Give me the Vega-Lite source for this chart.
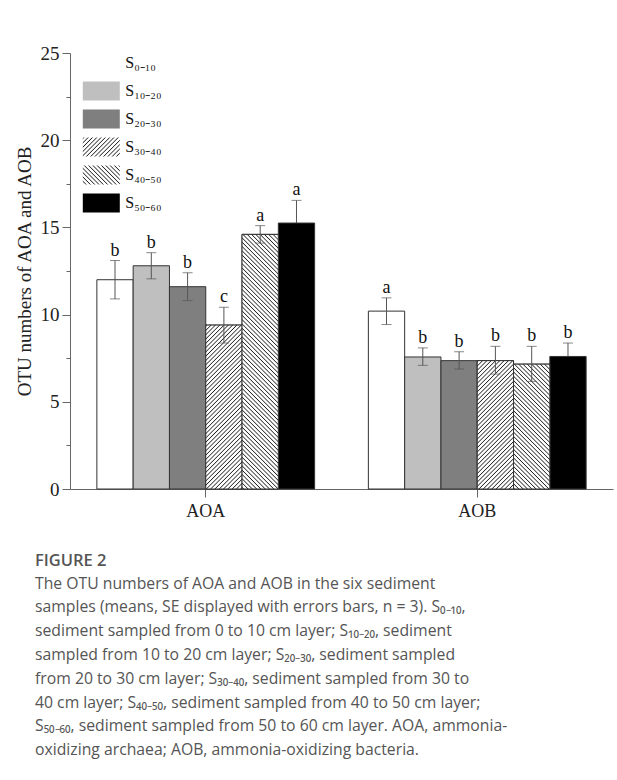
{
"$schema": "https://vega.github.io/schema/vega-lite/v6.json",
"width": 543,
"height": 436,
"autosize": {"type": "none"},
"padding": {"left": 70, "top": 53, "right": 4, "bottom": 291},
"background": "white",
"config": {"view": {"stroke": null}, "font": "Liberation Serif"},
"params": [{"name": "hatch", "value": [
{"offset":0,"color":"#fff"},{"offset":0.0025,"color":"#222"},{"offset":0.005,"color":"#fff"},
{"offset":0.01,"color":"#fff"},{"offset":0.0125,"color":"#222"},{"offset":0.015,"color":"#fff"},
{"offset":0.02,"color":"#fff"},{"offset":0.0225,"color":"#222"},{"offset":0.025,"color":"#fff"},
{"offset":0.03,"color":"#fff"},{"offset":0.0325,"color":"#222"},{"offset":0.035,"color":"#fff"},
{"offset":0.04,"color":"#fff"},{"offset":0.0425,"color":"#222"},{"offset":0.045,"color":"#fff"},
{"offset":0.05,"color":"#fff"},{"offset":0.0525,"color":"#222"},{"offset":0.055,"color":"#fff"},
{"offset":0.06,"color":"#fff"},{"offset":0.0625,"color":"#222"},{"offset":0.065,"color":"#fff"},
{"offset":0.07,"color":"#fff"},{"offset":0.0725,"color":"#222"},{"offset":0.075,"color":"#fff"},
{"offset":0.08,"color":"#fff"},{"offset":0.0825,"color":"#222"},{"offset":0.085,"color":"#fff"},
{"offset":0.09,"color":"#fff"},{"offset":0.0925,"color":"#222"},{"offset":0.095,"color":"#fff"},
{"offset":0.1,"color":"#fff"},{"offset":0.1025,"color":"#222"},{"offset":0.105,"color":"#fff"},
{"offset":0.11,"color":"#fff"},{"offset":0.1125,"color":"#222"},{"offset":0.115,"color":"#fff"},
{"offset":0.12,"color":"#fff"},{"offset":0.1225,"color":"#222"},{"offset":0.125,"color":"#fff"},
{"offset":0.13,"color":"#fff"},{"offset":0.1325,"color":"#222"},{"offset":0.135,"color":"#fff"},
{"offset":0.14,"color":"#fff"},{"offset":0.1425,"color":"#222"},{"offset":0.145,"color":"#fff"},
{"offset":0.15,"color":"#fff"},{"offset":0.1525,"color":"#222"},{"offset":0.155,"color":"#fff"},
{"offset":0.16,"color":"#fff"},{"offset":0.1625,"color":"#222"},{"offset":0.165,"color":"#fff"},
{"offset":0.17,"color":"#fff"},{"offset":0.1725,"color":"#222"},{"offset":0.175,"color":"#fff"},
{"offset":0.18,"color":"#fff"},{"offset":0.1825,"color":"#222"},{"offset":0.185,"color":"#fff"},
{"offset":0.19,"color":"#fff"},{"offset":0.1925,"color":"#222"},{"offset":0.195,"color":"#fff"},
{"offset":0.2,"color":"#fff"},{"offset":0.2025,"color":"#222"},{"offset":0.205,"color":"#fff"},
{"offset":0.21,"color":"#fff"},{"offset":0.2125,"color":"#222"},{"offset":0.215,"color":"#fff"},
{"offset":0.22,"color":"#fff"},{"offset":0.2225,"color":"#222"},{"offset":0.225,"color":"#fff"},
{"offset":0.23,"color":"#fff"},{"offset":0.2325,"color":"#222"},{"offset":0.235,"color":"#fff"},
{"offset":0.24,"color":"#fff"},{"offset":0.2425,"color":"#222"},{"offset":0.245,"color":"#fff"},
{"offset":0.25,"color":"#fff"},{"offset":0.2525,"color":"#222"},{"offset":0.255,"color":"#fff"},
{"offset":0.26,"color":"#fff"},{"offset":0.2625,"color":"#222"},{"offset":0.265,"color":"#fff"},
{"offset":0.27,"color":"#fff"},{"offset":0.2725,"color":"#222"},{"offset":0.275,"color":"#fff"},
{"offset":0.28,"color":"#fff"},{"offset":0.2825,"color":"#222"},{"offset":0.285,"color":"#fff"},
{"offset":0.29,"color":"#fff"},{"offset":0.2925,"color":"#222"},{"offset":0.295,"color":"#fff"},
{"offset":0.3,"color":"#fff"},{"offset":0.3025,"color":"#222"},{"offset":0.305,"color":"#fff"},
{"offset":0.31,"color":"#fff"},{"offset":0.3125,"color":"#222"},{"offset":0.315,"color":"#fff"},
{"offset":0.32,"color":"#fff"},{"offset":0.3225,"color":"#222"},{"offset":0.325,"color":"#fff"},
{"offset":0.33,"color":"#fff"},{"offset":0.3325,"color":"#222"},{"offset":0.335,"color":"#fff"},
{"offset":0.34,"color":"#fff"},{"offset":0.3425,"color":"#222"},{"offset":0.345,"color":"#fff"},
{"offset":0.35,"color":"#fff"},{"offset":0.3525,"color":"#222"},{"offset":0.355,"color":"#fff"},
{"offset":0.36,"color":"#fff"},{"offset":0.3625,"color":"#222"},{"offset":0.365,"color":"#fff"},
{"offset":0.37,"color":"#fff"},{"offset":0.3725,"color":"#222"},{"offset":0.375,"color":"#fff"},
{"offset":0.38,"color":"#fff"},{"offset":0.3825,"color":"#222"},{"offset":0.385,"color":"#fff"},
{"offset":0.39,"color":"#fff"},{"offset":0.3925,"color":"#222"},{"offset":0.395,"color":"#fff"},
{"offset":0.4,"color":"#fff"},{"offset":0.4025,"color":"#222"},{"offset":0.405,"color":"#fff"},
{"offset":0.41,"color":"#fff"},{"offset":0.4125,"color":"#222"},{"offset":0.415,"color":"#fff"},
{"offset":0.42,"color":"#fff"},{"offset":0.4225,"color":"#222"},{"offset":0.425,"color":"#fff"},
{"offset":0.43,"color":"#fff"},{"offset":0.4325,"color":"#222"},{"offset":0.435,"color":"#fff"},
{"offset":0.44,"color":"#fff"},{"offset":0.4425,"color":"#222"},{"offset":0.445,"color":"#fff"},
{"offset":0.45,"color":"#fff"},{"offset":0.4525,"color":"#222"},{"offset":0.455,"color":"#fff"},
{"offset":0.46,"color":"#fff"},{"offset":0.4625,"color":"#222"},{"offset":0.465,"color":"#fff"},
{"offset":0.47,"color":"#fff"},{"offset":0.4725,"color":"#222"},{"offset":0.475,"color":"#fff"},
{"offset":0.48,"color":"#fff"},{"offset":0.4825,"color":"#222"},{"offset":0.485,"color":"#fff"},
{"offset":0.49,"color":"#fff"},{"offset":0.4925,"color":"#222"},{"offset":0.495,"color":"#fff"},
{"offset":0.5,"color":"#fff"},{"offset":0.5025,"color":"#222"},{"offset":0.505,"color":"#fff"},
{"offset":0.51,"color":"#fff"},{"offset":0.5125,"color":"#222"},{"offset":0.515,"color":"#fff"},
{"offset":0.52,"color":"#fff"},{"offset":0.5225,"color":"#222"},{"offset":0.525,"color":"#fff"},
{"offset":0.53,"color":"#fff"},{"offset":0.5325,"color":"#222"},{"offset":0.535,"color":"#fff"},
{"offset":0.54,"color":"#fff"},{"offset":0.5425,"color":"#222"},{"offset":0.545,"color":"#fff"},
{"offset":0.55,"color":"#fff"},{"offset":0.5525,"color":"#222"},{"offset":0.555,"color":"#fff"},
{"offset":0.56,"color":"#fff"},{"offset":0.5625,"color":"#222"},{"offset":0.565,"color":"#fff"},
{"offset":0.57,"color":"#fff"},{"offset":0.5725,"color":"#222"},{"offset":0.575,"color":"#fff"},
{"offset":0.58,"color":"#fff"},{"offset":0.5825,"color":"#222"},{"offset":0.585,"color":"#fff"},
{"offset":0.59,"color":"#fff"},{"offset":0.5925,"color":"#222"},{"offset":0.595,"color":"#fff"},
{"offset":0.6,"color":"#fff"},{"offset":0.6025,"color":"#222"},{"offset":0.605,"color":"#fff"},
{"offset":0.61,"color":"#fff"},{"offset":0.6125,"color":"#222"},{"offset":0.615,"color":"#fff"},
{"offset":0.62,"color":"#fff"},{"offset":0.6225,"color":"#222"},{"offset":0.625,"color":"#fff"},
{"offset":0.63,"color":"#fff"},{"offset":0.6325,"color":"#222"},{"offset":0.635,"color":"#fff"},
{"offset":0.64,"color":"#fff"},{"offset":0.6425,"color":"#222"},{"offset":0.645,"color":"#fff"},
{"offset":0.65,"color":"#fff"},{"offset":0.6525,"color":"#222"},{"offset":0.655,"color":"#fff"},
{"offset":0.66,"color":"#fff"},{"offset":0.6625,"color":"#222"},{"offset":0.665,"color":"#fff"},
{"offset":0.67,"color":"#fff"},{"offset":0.6725,"color":"#222"},{"offset":0.675,"color":"#fff"},
{"offset":0.68,"color":"#fff"},{"offset":0.6825,"color":"#222"},{"offset":0.685,"color":"#fff"}
]}],
"title": {
  "text": "FIGURE 2",
  "subtitle": [
    "The OTU numbers of AOA and AOB in the six sediment",
    "samples (means, SE displayed with errors bars, n = 3). S₀₋₁₀,",
    "sediment sampled from 0 to 10 cm layer; S₁₀₋₂₀, sediment",
    "sampled from 10 to 20 cm layer; S₂₀₋₃₀, sediment sampled",
    "from 20 to 30 cm layer; S₃₀₋₄₀, sediment sampled from 30 to",
    "40 cm layer; S₄₀₋₅₀, sediment sampled from 40 to 50 cm layer;",
    "S₅₀₋₆₀, sediment sampled from 50 to 60 cm layer. AOA, ammonia-",
    "oxidizing archaea; AOB, ammonia-oxidizing bacteria."
  ],
  "orient": "bottom",
  "anchor": "start",
  "frame": "group",
  "offset": 33,
  "dx": -35,
  "font": "Open Sans",
  "fontSize": 16.5,
  "fontWeight": 600,
  "color": "#555555",
  "subtitleFont": "Open Sans",
  "subtitleFontSize": 15.75,
  "subtitleColor": "#555555",
  "subtitleLineHeight": 23.8,
  "subtitlePadding": 7
},
"data": {"values": [
  {"group": "AOA", "sample": "S0-10", "value": 12.0, "lower": 10.9, "upper": 13.1, "letter": "b"},
  {"group": "AOA", "sample": "S10-20", "value": 12.8, "lower": 12.05, "upper": 13.55, "letter": "b"},
  {"group": "AOA", "sample": "S20-30", "value": 11.6, "lower": 10.8, "upper": 12.4, "letter": "b"},
  {"group": "AOA", "sample": "S30-40", "value": 9.4, "lower": 8.37, "upper": 10.42, "letter": "c"},
  {"group": "AOA", "sample": "S40-50", "value": 14.6, "lower": 14.1, "upper": 15.1, "letter": "a"},
  {"group": "AOA", "sample": "S50-60", "value": 15.25, "lower": 13.95, "upper": 16.55, "letter": "a"},
  {"group": "AOB", "sample": "S0-10", "value": 10.2, "lower": 9.43, "upper": 10.96, "letter": "a"},
  {"group": "AOB", "sample": "S10-20", "value": 7.57, "lower": 7.09, "upper": 8.09, "letter": "b"},
  {"group": "AOB", "sample": "S20-30", "value": 7.36, "lower": 6.88, "upper": 7.87, "letter": "b"},
  {"group": "AOB", "sample": "S30-40", "value": 7.36, "lower": 6.59, "upper": 8.18, "letter": "b"},
  {"group": "AOB", "sample": "S40-50", "value": 7.16, "lower": 6.17, "upper": 8.18, "letter": "b"},
  {"group": "AOB", "sample": "S50-60", "value": 7.6, "lower": 6.8, "upper": 8.37, "letter": "b"}
]},
"encoding": {
  "x": {"field": "group", "type": "nominal", "scale": {"paddingInner": 0, "paddingOuter": 0},
        "axis": {"title": null, "labelAngle": 0, "labelFont": "Liberation Serif", "labelFontSize": 18, "labelColor": "#222222", "tickSize": 8, "tickColor": "#666666", "domainColor": "#666666", "labelPadding": 5}},
  "xOffset": {"field": "sample", "type": "nominal", "scale": {"domain": ["S0-10","S10-20","S20-30","S30-40","S40-50","S50-60"], "paddingInner": 0, "paddingOuter": 0.74}}
},
"layer": [
  {
    "mark": {"type": "bar", "stroke": "#333333", "strokeWidth": 1},
    "encoding": {
      "y": {"field": "value", "type": "quantitative", "title": "OTU numbers of AOA and AOB",
            "scale": {"domain": [0, 25], "nice": false},
            "axis": {"values": [0,2.5,5,7.5,10,12.5,15,17.5,20,22.5,25],
                     "labelExpr": "datum.value % 5 === 0 ? datum.label : ''",
                     "tickSize": {"condition": {"test": "datum.value % 5 === 0", "value": 8}, "value": 4},
                     "grid": false, "domainColor": "#666666", "tickColor": "#666666",
                     "labelFont": "Liberation Serif", "labelFontSize": 19, "labelColor": "#222222", "labelPadding": 3,
                     "titleFont": "Liberation Serif", "titleFontSize": 19, "titleFontWeight": "normal", "titleColor": "#222222", "titlePadding": 6}},
      "fill": {"field": "sample", "type": "nominal",
               "scale": {"domain": ["S0-10","S10-20","S20-30","S30-40","S40-50","S50-60"], "range": ["#ffffff","#bfbfbf","#7f7f7f","#ffffff","#ffffff","#000000"]},
               "legend": null}
    }
  },
  {
    "mark": {"type": "point", "opacity": 0, "filled": true, "strokeWidth": 1,
             "fill": {"expr": "isNumber(datum.value) ? 'transparent' : datum.value === 'S30-40' ? {gradient: 'linear', x1: 0, y1: 0, x2: 9.197, y2: 4.723, stops: hatch} : datum.value === 'S40-50' ? {gradient: 'linear', x1: 1, y1: 0, x2: -8.197, y2: 4.723, stops: hatch} : datum.value === 'S10-20' ? '#bfbfbf' : datum.value === 'S20-30' ? '#7f7f7f' : datum.value === 'S50-60' ? '#000000' : '#ffffff'"}},
    "encoding": {
      "y": {"field": "value", "type": "quantitative", "title": "OTU numbers of AOA and AOB"},
      "stroke": {"value": "#333333"},
      "shape": {"field": "sample", "type": "nominal",
                "scale": {"range": ["M-1.947,-1H1.947V1H-1.947Z","M-1.947,-1H1.947V1H-1.947Z","M-1.947,-1H1.947V1H-1.947Z","M-1.947,-1H1.947V1H-1.947Z","M-1.947,-1H1.947V1H-1.947Z","M-1.947,-1H1.947V1H-1.947Z"]},
                "legend": {"orient": "none", "legendX": 21.3, "legendY": 0, "title": null,
                          "symbolSize": 361, "symbolOpacity": 1,
                          "symbolStrokeColor": "#333333", "symbolStrokeWidth": 1,
                          "labelFont": "Liberation Serif", "labelFontSize": 16, "labelColor": "#111111",
                          "labelOffset": 14, "rowPadding": 4, "padding": 0,
                          "labelExpr": "{'S0-10':'S₀₋₁₀','S10-20':'S₁₀₋₂₀','S20-30':'S₂₀₋₃₀','S30-40':'S₃₀₋₄₀','S40-50':'S₄₀₋₅₀','S50-60':'S₅₀₋₆₀'}[datum.label]"}}
    }
  },
  {
    "transform": [{"filter": "datum.group === 'AOA' && datum.sample === 'S30-40'"}],
    "mark": {"type": "bar", "stroke": "#333333", "strokeWidth": 1, "fill": {"expr": "{gradient: 'linear', x1: 0, y1: 0, x2: 0.5539, y2: 2.5009, stops: hatch}"}},
    "encoding": {"y": {"field": "value", "type": "quantitative", "title": "OTU numbers of AOA and AOB"}}
  },
  {
    "transform": [{"filter": "datum.group === 'AOA' && datum.sample === 'S40-50'"}],
    "mark": {"type": "bar", "stroke": "#333333", "strokeWidth": 1, "fill": {"expr": "{gradient: 'linear', x1: 1, y1: 0, x2: 0.7640, y2: 1.6553, stops: hatch}"}},
    "encoding": {"y": {"field": "value", "type": "quantitative", "title": "OTU numbers of AOA and AOB"}}
  },
  {
    "transform": [{"filter": "datum.group === 'AOB' && datum.sample === 'S30-40'"}],
    "mark": {"type": "bar", "stroke": "#333333", "strokeWidth": 1, "fill": {"expr": "{gradient: 'linear', x1: 0, y1: 0, x2: 0.8767, y2: 3.1011, stops: hatch}"}},
    "encoding": {"y": {"field": "value", "type": "quantitative", "title": "OTU numbers of AOA and AOB"}}
  },
  {
    "transform": [{"filter": "datum.group === 'AOB' && datum.sample === 'S40-50'"}],
    "mark": {"type": "bar", "stroke": "#333333", "strokeWidth": 1, "fill": {"expr": "{gradient: 'linear', x1: 1, y1: 0, x2: 0.0774, y2: 3.1745, stops: hatch}"}},
    "encoding": {"y": {"field": "value", "type": "quantitative", "title": "OTU numbers of AOA and AOB"}}
  },
  {
    "mark": {"type": "rule", "color": "#555555", "strokeWidth": 1},
    "encoding": {"y": {"field": "value", "type": "quantitative", "title": "OTU numbers of AOA and AOB"}, "y2": {"field": "upper"}}
  },
  {
    "transform": [{"filter": "datum.sample !== 'S50-60'"}],
    "mark": {"type": "rule", "color": "#555555", "strokeWidth": 1},
    "encoding": {"y": {"field": "lower", "type": "quantitative", "title": "OTU numbers of AOA and AOB"}, "y2": {"field": "value"}}
  },
  {
    "mark": {"type": "tick", "color": "#555555", "size": 10, "thickness": 1},
    "encoding": {"y": {"field": "upper", "type": "quantitative", "title": "OTU numbers of AOA and AOB"}}
  },
  {
    "transform": [{"filter": "datum.sample !== 'S50-60'"}],
    "mark": {"type": "tick", "color": "#555555", "size": 10, "thickness": 1},
    "encoding": {"y": {"field": "lower", "type": "quantitative", "title": "OTU numbers of AOA and AOB"}}
  },
  {
    "mark": {"type": "text", "font": "Liberation Serif", "fontSize": 18, "baseline": "bottom", "dy": -1, "color": "#111111"},
    "encoding": {"y": {"field": "upper", "type": "quantitative", "title": "OTU numbers of AOA and AOB"}, "text": {"field": "letter"}}
  }
]
}
